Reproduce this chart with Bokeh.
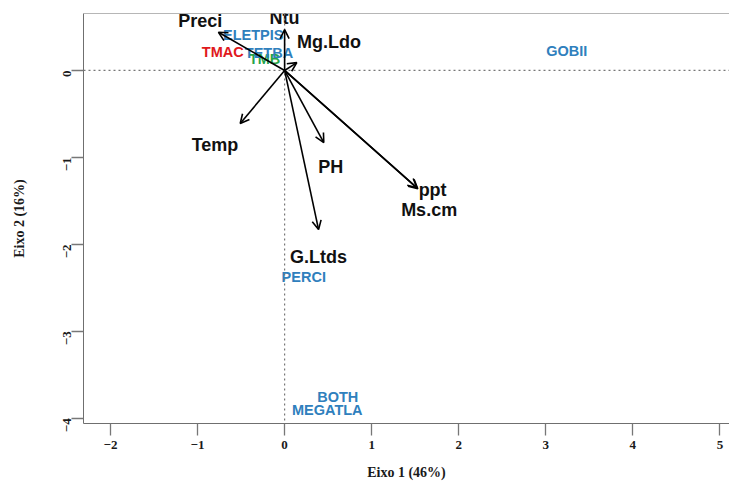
import math
from bokeh.plotting import figure
from bokeh.models import ColumnDataSource, Arrow, OpenHead, Span, Range1d, FixedTicker
from bokeh.core.properties import value
from bokeh.embed import file_html
from bokeh.resources import INLINE

# Environmental variables (biplot arrows)
var_names = ["Preci", "Ntu", "Mg.Ldo", "Temp", "PH", "G.Ltds", "ppt", "Ms.cm"]
var_x = [-0.76, 0.0, 0.14, -0.51, 0.45, 0.39, 1.53, 1.52]
var_y = [0.44, 0.47, 0.09, -0.61, -0.83, -1.83, -1.36, -1.35]
var_label_x = [-0.97, 0.0, 0.51, -0.80, 0.53, 0.39, 1.70, 1.66]
var_label_y = [0.57, 0.60, 0.33, -0.86, -1.11, -2.14, -1.38, -1.61]

# Species scores
sp_names = ["TMB", "GOBII", "PERCI", "BOTH", "MEGATLA", "ELETPIS", "TMAC", "TETBA"]
sp_x = [-0.23, 3.24, 0.22, 0.61, 0.49, -0.36, -0.71, -0.18]
sp_y = [0.13, 0.22, -2.38, -3.76, -3.90, 0.41, 0.21, 0.20]
sp_group = ["g", "b", "b", "b", "b", "b", "r", "b"]

x_ticks = [-2, -1, 0, 1, 2, 3, 4, 5]
y_ticks = [0, -1, -2, -3, -4]

color_map = {"b": "#2f80bd", "r": "#e0191c", "g": "#26a44a"}

p = figure(width=729, height=484, output_backend="svg", toolbar_location=None,
           x_range=Range1d(-2.31, 5.11), y_range=Range1d(-4.06, 0.655),
           min_border_left=83, min_border_right=0, min_border_top=13, min_border_bottom=61)
p.outline_line_color = None
p.xgrid.visible = False
p.ygrid.visible = False
p.background_fill_color = "white"

for ax in (p.xaxis[0], p.yaxis[0]):
    ax.axis_line_color = "#6f6f6f"
    ax.major_tick_line_color = "#777777"
    ax.major_tick_line_width = 1.3
    ax.major_tick_out = 12
    ax.major_tick_in = 0
    ax.minor_tick_line_color = None
    ax.major_label_text_font = "Liberation Serif"
    ax.major_label_text_font_style = "bold"
    ax.major_label_text_font_size = "13px"
    ax.major_label_text_color = "#1a1a1a"
    ax.axis_label_text_font = "Liberation Serif"
    ax.axis_label_text_font_style = "bold"
    ax.axis_label_text_font_size = "14px"
    ax.axis_label_text_color = "#1a1a1a"

p.xaxis[0].ticker = FixedTicker(ticks=x_ticks)
p.yaxis[0].ticker = FixedTicker(ticks=y_ticks)
p.xaxis[0].axis_label = "Eixo 1 (46%)"
p.yaxis[0].axis_label = "Eixo 2 (16%)"
p.xaxis[0].major_label_standoff = 5
p.xaxis[0].axis_label_standoff = 13
p.yaxis[0].major_label_orientation = math.pi / 2
p.yaxis[0].major_label_standoff = 4
p.yaxis[0].axis_label_standoff = 30

# top frame line
p.add_layout(Span(location=0.655, dimension="width", line_color="#6f6f6f", line_width=1))

# dotted reference lines
p.add_layout(Span(location=0, dimension="width", line_color="#777777", line_width=1.2, line_dash="2 3"))
p.add_layout(Span(location=0, dimension="height", line_color="#777777", line_width=1.2, line_dash="2 3"))

# species labels
ssrc = ColumnDataSource(dict(x=sp_x, y=sp_y, t=sp_names, c=[color_map[g] for g in sp_group]))
p.text(x="x", y="y", text="t", source=ssrc, text_color="c",
       text_font=value("Liberation Sans"), text_font_style="bold", text_font_size="14.5px",
       text_align="center", text_baseline="middle")

# arrows
asrc = ColumnDataSource(dict(x0=[0.0] * len(var_x), y0=[0.0] * len(var_y), x1=var_x, y1=var_y))
p.add_layout(Arrow(end=OpenHead(size=9, line_width=1.6, line_color="black"),
                   x_start="x0", y_start="y0", x_end="x1", y_end="y1",
                   source=asrc, line_width=1.6, line_color="black"))

# variable labels
vsrc = ColumnDataSource(dict(x=var_label_x, y=var_label_y, t=var_names))
p.text(x="x", y="y", text="t", source=vsrc, text_color="#111111",
       text_font=value("Liberation Sans"), text_font_style="bold", text_font_size="18px",
       text_align="center", text_baseline="middle")

open("out.html", "w").write(file_html(p, INLINE))
